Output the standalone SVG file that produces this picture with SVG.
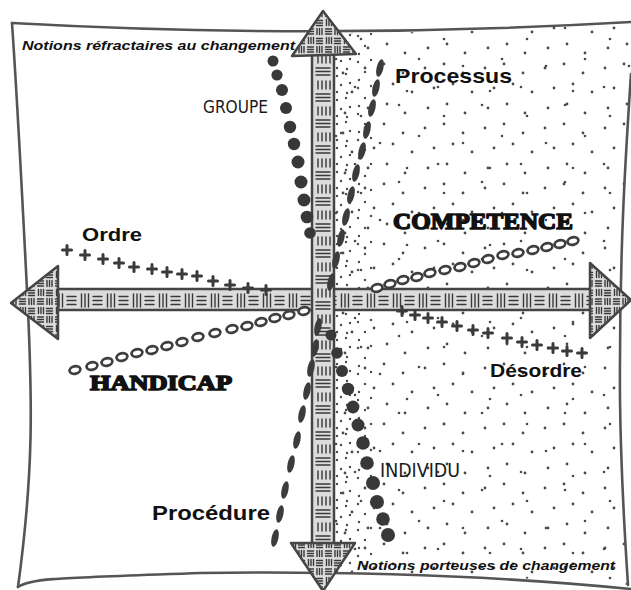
<svg xmlns="http://www.w3.org/2000/svg" xmlns:xlink="http://www.w3.org/1999/xlink" width="631" height="590" viewBox="0 0 631 590">
  <style>
    .frame { fill: none; stroke: #555; stroke-width: 2.6; stroke-linecap: round; stroke-linejoin: round; }
    .arrow { stroke: #454545; stroke-width: 2.5; stroke-linejoin: round; }
    .weave { stroke: #383838; stroke-width: 1.4; fill: none; stroke-linecap: round; }
    .dot { fill: #4a4a4a; }
    .bead { fill: #383838; }
    .dash { fill: #3c3c3c; }
    .ring { fill: #fff; stroke: #3f3f3f; stroke-width: 2.7; }
    .cross { fill: none; stroke: #3a3a3a; stroke-width: 3; stroke-linecap: round; }
    .note { font-family: "Liberation Sans", Arial, sans-serif; font-weight: bold; font-style: italic; font-size: 13.5px; fill: #111; }
    .kw { font-family: "Liberation Sans", Arial, sans-serif; font-weight: bold; fill: #111; }
    .hand { font-family: "Liberation Sans Narrow", "DejaVu Sans Condensed", "Liberation Sans", sans-serif; font-weight: normal; fill: #1a1a1a; }
    .heavy { font-family: "Liberation Serif", "Times New Roman", serif; font-weight: bold; fill: #111; stroke: #111; stroke-width: 1.5; stroke-linejoin: round; }
  </style>
  <defs>
    <!-- woven texture for the horizontal shaft -->
    <pattern id="weaveH" patternUnits="userSpaceOnUse" x="0" y="290" width="26" height="21">
      <rect width="26" height="21" fill="#dcdcdc"/>
      <path class="weave" d="M3.5,4V17M7,4V17M10.5,4V17M15,6.5H24M15,10.5H24M15,14.5H24"/>
    </pattern>
    <!-- woven texture for the vertical shaft -->
    <pattern id="weaveV" patternUnits="userSpaceOnUse" x="312" y="0" width="22" height="26">
      <rect width="22" height="26" fill="#dcdcdc"/>
      <path class="weave" d="M6,3V11M10,3V11M14,3V11M18,3V11M4,16H18M4,19.5H18M4,23H18"/>
    </pattern>
    <!-- basket weave for the arrow heads -->
    <pattern id="weaveX" patternUnits="userSpaceOnUse" x="0" y="0" width="18" height="18">
      <rect width="18" height="18" fill="#dcdcdc"/>
      <path class="weave" d="M2.5,1.5V7.5M5,1.5V7.5M7.5,1.5V7.5M10.5,2.5H16.5M10.5,5H16.5M10.5,7.5H16.5M1.5,11H7.5M1.5,13.5H7.5M1.5,16H7.5M11,10.5V16.5M13.5,10.5V16.5M16,10.5V16.5"/>
    </pattern>
    <!-- stipple textures -->
    <pattern id="stipA" patternUnits="userSpaceOnUse" x="0" y="0" width="60" height="60">
      <circle class="dot" cx="5" cy="8" r="1.4"/><circle class="dot" cx="24" cy="4" r="1.4"/>
      <circle class="dot" cx="43" cy="13" r="1.4"/><circle class="dot" cx="14" cy="28" r="1.4"/>
      <circle class="dot" cx="33" cy="24" r="1.4"/><circle class="dot" cx="52" cy="32" r="1.4"/>
      <circle class="dot" cx="8" cy="48" r="1.4"/><circle class="dot" cx="27" cy="44" r="1.4"/>
      <circle class="dot" cx="45" cy="53" r="1.4"/>
    </pattern>
    <pattern id="stipB" patternUnits="userSpaceOnUse" x="17" y="21" width="83" height="77">
      <circle class="dot" cx="12" cy="18" r="1.3"/><circle class="dot" cx="50" cy="7" r="1.3"/>
      <circle class="dot" cx="70" cy="38" r="1.3"/><circle class="dot" cx="31" cy="45" r="1.3"/>
      <circle class="dot" cx="6" cy="66" r="1.3"/><circle class="dot" cx="58" cy="70" r="1.3"/>
    </pattern>
    <pattern id="stipC" patternUnits="userSpaceOnUse" x="334" y="0" width="20" height="24">
      <circle class="dot" cx="3" cy="4" r="1.2"/><circle class="dot" cx="12" cy="2" r="1.2"/>
      <circle class="dot" cx="16" cy="11" r="1.2"/><circle class="dot" cx="7" cy="13" r="1.2"/>
      <circle class="dot" cx="3" cy="20" r="1.2"/><circle class="dot" cx="13" cy="21" r="1.2"/>
    </pattern>
    <pattern id="stipD" patternUnits="userSpaceOnUse" x="354" y="5" width="26" height="26">
      <circle class="dot" cx="4" cy="5" r="1.2"/><circle class="dot" cx="17" cy="3" r="1.2"/>
      <circle class="dot" cx="11" cy="15" r="1.2"/><circle class="dot" cx="5" cy="23" r="1.2"/>
    </pattern>
    <clipPath id="rightHalf">
      <path d="M333,33 Q480,33 631,22 L631,74 C626,150 619,250 620,400 C621,480 625,540 628,585 C500,576 420,572 333,574 Z"/>
    </clipPath>
    <path id="cross" class="cross" d="M-4.5,0H4.5M0,-4.5V4.5"/>
    <ellipse id="ring" class="ring" rx="5.5" ry="3.7"/>
    <ellipse id="dash" class="dash" rx="3.4" ry="9"/>
  </defs>

  <rect width="631" height="590" fill="#fff"/>

  <!-- stippled right half -->
  <g id="stipple" clip-path="url(#rightHalf)">
    <rect x="333" y="20" width="300" height="570" fill="url(#stipA)"/>
    <rect x="333" y="20" width="300" height="570" fill="url(#stipB)"/>
    <rect x="333" y="20" width="20" height="570" fill="url(#stipC)"/>
    <rect x="353" y="20" width="20" height="570" fill="url(#stipD)"/>
  </g>

  <!-- hand-drawn frame -->
  <g id="frame">
    <path class="frame" d="M12,23 Q320,40 631,22"/>
    <path class="frame" d="M12,23 C18,110 24,230 28,310 C32,400 34,470 18,587"/>
    <path class="frame" d="M18,587 C30,578 60,578 200,573 C350,571 500,576 631,589"/>
    <path class="frame" d="M631,74 C626,150 619,250 620,400 C621,480 625,540 628,585"/>
  </g>

  <!-- the two axes -->
  <g id="connectors">
    <rect class="arrow" x="56" y="289" width="536" height="21" fill="url(#weaveH)"/>
    <rect class="arrow" x="312" y="54" width="22" height="490" fill="url(#weaveV)"/>
    <polygon class="arrow" points="323,11 292,56 356,54" fill="url(#weaveX)"/>
    <polygon class="arrow" points="291,543 355,543 323,591" fill="url(#weaveX)"/>
    <polygon class="arrow" points="11,303 58,266 58,339" fill="url(#weaveX)"/>
    <polygon class="arrow" points="590,263 631,300 590,338" fill="url(#weaveX)"/>
  </g>

  <!-- GROUPE bead line -->
  <g id="groupe-beads">
    <circle class="bead" cx="273" cy="61" r="5.5"/><circle class="bead" cx="277" cy="75" r="5.6"/>
    <circle class="bead" cx="282" cy="90" r="6"/><circle class="bead" cx="286" cy="108" r="6"/>
    <circle class="bead" cx="290" cy="127" r="6.2"/><circle class="bead" cx="294" cy="144" r="6.2"/>
    <circle class="bead" cx="298" cy="162" r="6.5"/><circle class="bead" cx="301" cy="182" r="6.5"/>
    <circle class="bead" cx="304" cy="200" r="6.5"/><circle class="bead" cx="307" cy="217" r="6.3"/>
    <circle class="bead" cx="310" cy="233" r="5.8"/>
  </g>

  <!-- INDIVIDU bead line -->
  <g id="individu-beads">
    <circle class="bead" cx="331" cy="335" r="5.5"/><circle class="bead" cx="337" cy="353" r="5.8"/>
    <circle class="bead" cx="342" cy="371" r="6"/><circle class="bead" cx="348" cy="389" r="6.2"/>
    <circle class="bead" cx="353" cy="407" r="6.4"/><circle class="bead" cx="358" cy="425" r="6.5"/>
    <circle class="bead" cx="363" cy="443" r="6.8"/><circle class="bead" cx="367" cy="463" r="6.8"/>
    <circle class="bead" cx="373" cy="483" r="7"/><circle class="bead" cx="377" cy="502" r="7"/>
    <circle class="bead" cx="383" cy="519" r="6.8"/><circle class="bead" cx="388" cy="535" r="7"/>
  </g>

  <!-- Processus dashed line -->
  <g id="processus-dashes">
    <use href="#dash" transform="translate(380,68) rotate(13)"/>
    <use href="#dash" transform="translate(376,88) rotate(13)"/>
    <use href="#dash" transform="translate(372,108) rotate(13)"/>
    <use href="#dash" transform="translate(367,130) rotate(13)"/>
    <use href="#dash" transform="translate(362,151) rotate(13)"/>
    <use href="#dash" transform="translate(356,173) rotate(13)"/>
    <use href="#dash" transform="translate(351,195) rotate(13)"/>
    <use href="#dash" transform="translate(346,217) rotate(13)"/>
    <use href="#dash" transform="translate(341,238) rotate(13)"/>
    <use href="#dash" transform="translate(336,260) rotate(13)"/>
    <use href="#dash" transform="translate(331,282) rotate(13)"/>
  </g>

  <!-- Procédure dashed line -->
  <g id="procedure-dashes">
    <use href="#dash" transform="translate(318,327) rotate(12)"/>
    <use href="#dash" transform="translate(315,348) rotate(12)"/>
    <use href="#dash" transform="translate(311,368) rotate(12)"/>
    <use href="#dash" transform="translate(307,391) rotate(12)"/>
    <use href="#dash" transform="translate(302,414) rotate(12)"/>
    <use href="#dash" transform="translate(297,440) rotate(12)"/>
    <use href="#dash" transform="translate(291,464) rotate(12)"/>
    <use href="#dash" transform="translate(285,490) rotate(12)"/>
    <use href="#dash" transform="translate(280,514) rotate(12)"/>
    <use href="#dash" transform="translate(275,538) rotate(12)"/>
  </g>

  <!-- ring bead line, lower left -->
  <g id="rings-left">
    <use href="#ring" transform="translate(75,370) rotate(-15)"/>
    <use href="#ring" transform="translate(92,366) rotate(-15)"/>
    <use href="#ring" transform="translate(107,362) rotate(-15)"/>
    <use href="#ring" transform="translate(122,357) rotate(-15)"/>
    <use href="#ring" transform="translate(137,353) rotate(-15)"/>
    <use href="#ring" transform="translate(152,350) rotate(-15)"/>
    <use href="#ring" transform="translate(167,346) rotate(-15)"/>
    <use href="#ring" transform="translate(182,342) rotate(-15)"/>
    <use href="#ring" transform="translate(198,337) rotate(-15)"/>
    <use href="#ring" transform="translate(215,333) rotate(-15)"/>
    <use href="#ring" transform="translate(232,329) rotate(-15)"/>
    <use href="#ring" transform="translate(247,326) rotate(-15)"/>
    <use href="#ring" transform="translate(261,322) rotate(-15)"/>
    <use href="#ring" transform="translate(275,318) rotate(-15)"/>
    <use href="#ring" transform="translate(289,315) rotate(-15)"/>
    <use href="#ring" transform="translate(304,311) rotate(-15)"/>
  </g>

  <!-- ring bead line, upper right -->
  <g id="rings-right">
    <use href="#ring" transform="translate(377,288) rotate(-14)"/>
    <use href="#ring" transform="translate(390,284) rotate(-14)"/>
    <use href="#ring" transform="translate(403,280) rotate(-14)"/>
    <use href="#ring" transform="translate(417,277) rotate(-14)"/>
    <use href="#ring" transform="translate(430,273) rotate(-14)"/>
    <use href="#ring" transform="translate(445,270) rotate(-14)"/>
    <use href="#ring" transform="translate(460,267) rotate(-14)"/>
    <use href="#ring" transform="translate(474,263) rotate(-14)"/>
    <use href="#ring" transform="translate(488,259) rotate(-14)"/>
    <use href="#ring" transform="translate(503,255) rotate(-14)"/>
    <use href="#ring" transform="translate(518,253) rotate(-14)"/>
    <use href="#ring" transform="translate(533,250) rotate(-14)"/>
    <use href="#ring" transform="translate(547,247) rotate(-14)"/>
    <use href="#ring" transform="translate(560,244) rotate(-14)"/>
    <use href="#ring" transform="translate(573,241) rotate(-14)"/>
  </g>

  <!-- Ordre cross line -->
  <g id="ordre-crosses">
    <use href="#cross" x="67" y="250"/><use href="#cross" x="85" y="255"/>
    <use href="#cross" x="103" y="259"/><use href="#cross" x="119" y="263"/>
    <use href="#cross" x="134" y="267"/><use href="#cross" x="152" y="269"/>
    <use href="#cross" x="167" y="272"/><use href="#cross" x="182" y="274"/>
    <use href="#cross" x="197" y="276"/><use href="#cross" x="213" y="281"/>
    <use href="#cross" x="230" y="285"/><use href="#cross" x="248" y="288"/>
    <use href="#cross" x="266" y="290"/>
  </g>

  <!-- Désordre cross line -->
  <g id="desordre-crosses">
    <use href="#cross" x="402" y="311"/><use href="#cross" x="415" y="315"/>
    <use href="#cross" x="428" y="318"/><use href="#cross" x="442" y="322"/>
    <use href="#cross" x="457" y="326"/><use href="#cross" x="473" y="330"/>
    <use href="#cross" x="488" y="333"/><use href="#cross" x="507" y="338"/>
    <use href="#cross" x="522" y="342"/><use href="#cross" x="537" y="345"/>
    <use href="#cross" x="553" y="348"/><use href="#cross" x="567" y="351"/>
    <use href="#cross" x="582" y="353"/>
  </g>

  <!-- labels -->
  <g id="label-refractaires"><text class="note" x="22" y="50" textLength="273" lengthAdjust="spacingAndGlyphs">Notions réfractaires au changement</text></g>
  <g id="label-processus"><text class="kw" x="395" y="83" font-size="21" textLength="117" lengthAdjust="spacingAndGlyphs">Processus</text></g>
  <g id="label-groupe"><text class="hand" x="203" y="113" font-size="18" textLength="65" lengthAdjust="spacingAndGlyphs">GROUPE</text></g>
  <g id="label-competence"><text class="heavy" x="393" y="229" font-size="23" textLength="180" lengthAdjust="spacingAndGlyphs">COMPETENCE</text></g>
  <g id="label-ordre"><text class="kw" x="82" y="241" font-size="18" textLength="60" lengthAdjust="spacingAndGlyphs">Ordre</text></g>
  <g id="label-handicap"><text class="heavy" x="90" y="390" font-size="21" textLength="142" lengthAdjust="spacingAndGlyphs">HANDICAP</text></g>
  <g id="label-desordre"><text class="kw" x="490" y="377" font-size="18" textLength="92" lengthAdjust="spacingAndGlyphs">Désordre</text></g>
  <g id="label-individu"><text class="hand" x="380" y="477" font-size="19" textLength="80" lengthAdjust="spacingAndGlyphs">INDIVIDU</text></g>
  <g id="label-procedure"><text class="kw" x="152" y="520" font-size="21" textLength="118" lengthAdjust="spacingAndGlyphs">Procédure</text></g>
  <g id="label-porteuses"><text class="note" x="357" y="570" textLength="258" lengthAdjust="spacingAndGlyphs">Notions porteuses de changement</text></g>
</svg>
